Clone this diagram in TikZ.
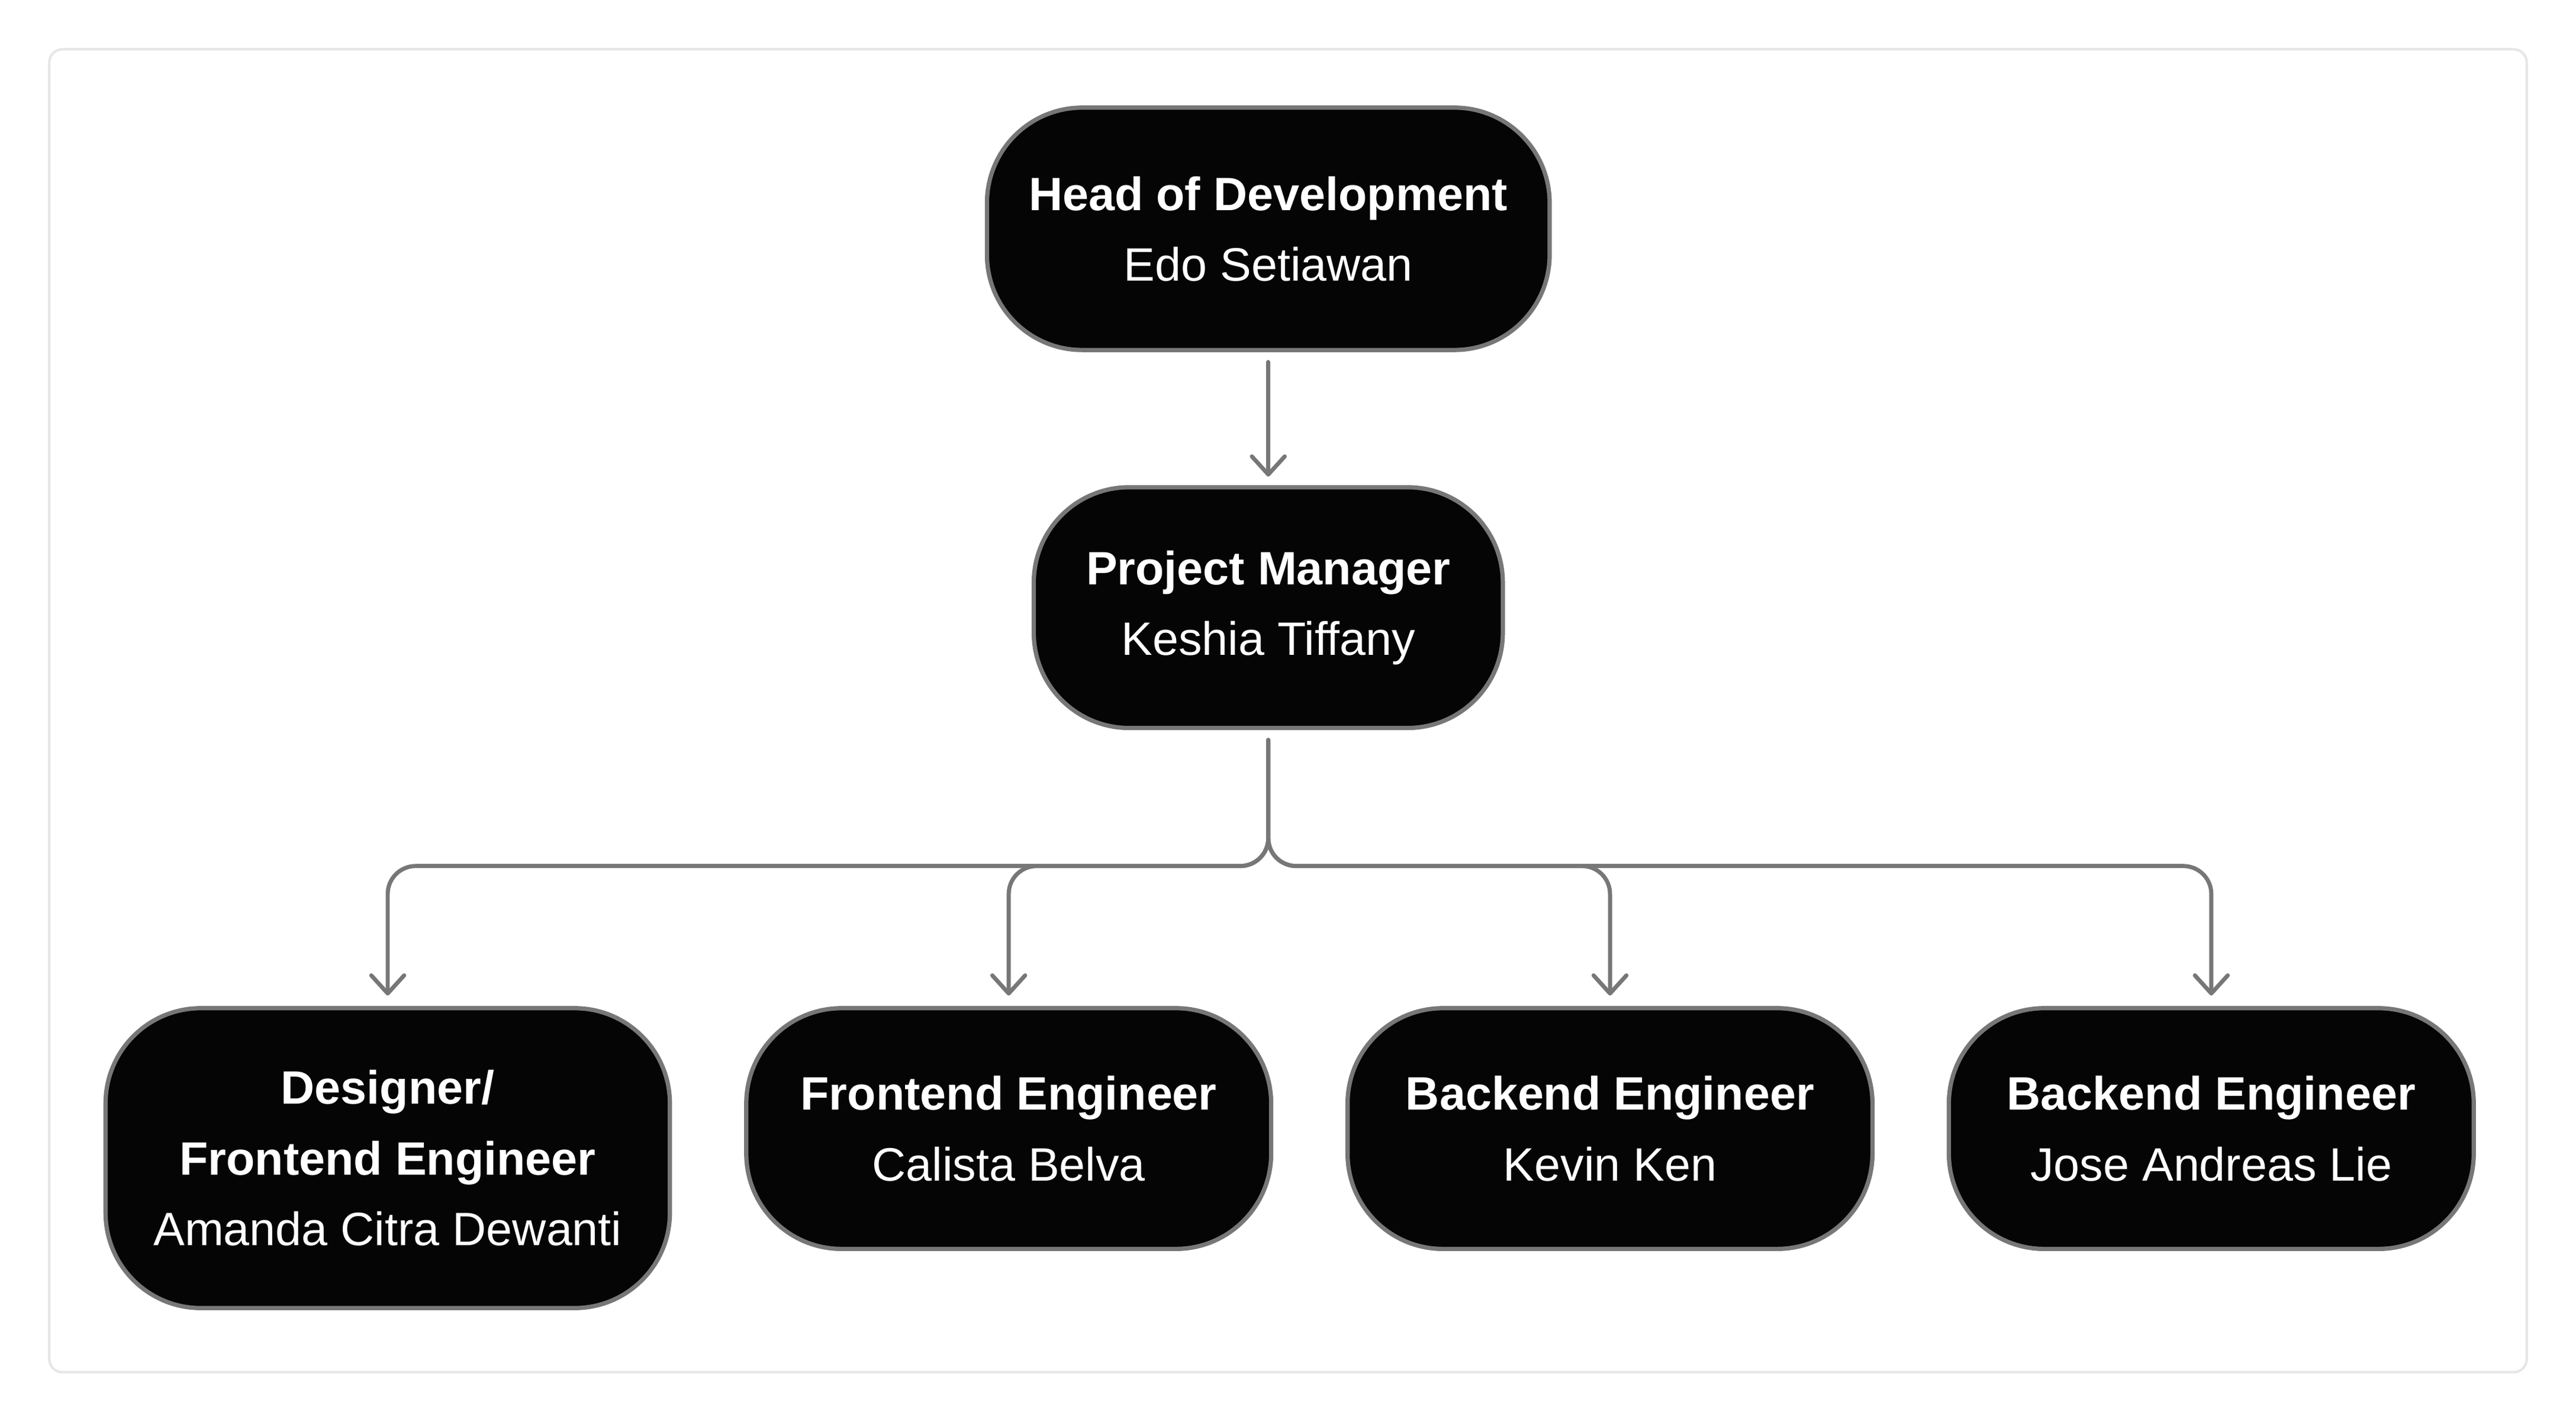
\documentclass[tikz,border=0pt]{standalone}
\usepackage{fontspec}
\setmainfont{Liberation Sans}
\usepackage{tikz}
\usetikzlibrary{arrows.meta}
\definecolor{boxfill}{HTML}{050505}
\definecolor{boxline}{HTML}{777777}
\definecolor{framegray}{HTML}{E6E6E6}
\tikzset{
  role/.style={draw=boxline, line width=1.3pt, fill=boxfill, text=white,
    rounded corners=29pt, align=center, inner sep=0pt, anchor=north,
    font=\fontsize{14.25}{21.5}\selectfont},
  link/.style={draw=boxline, line width=1.25pt, rounded corners=8.5pt, line cap=round,
    -{Straight Barb[length=5.5pt,width=10pt,round]}, shorten <=3pt, shorten >=3.2pt}
}

\begin{document}
\begin{tikzpicture}[x=0.5pt,y=-0.5pt]
\useasboundingbox (0,0) rectangle (1568,864.7);
\draw[framegray, line width=0.75pt, rounded corners=4pt] (30,30) rectangle (1538,835);
% boxes
\node[role, minimum width=171.25pt, minimum height=73.75pt] (head) at (772,64.2) {\textbf{Head of Development}\\Edo Setiawan};
\node[role, minimum width=142.75pt, minimum height=73.25pt] (pm) at (772,295.2) {\textbf{Project Manager}\\Keshia Tiffany\vphantom{p}};
\node[role, minimum width=171.75pt, minimum height=91.25pt] (designer) at (236,612.2) {\textbf{Designer/}\\\textbf{Frontend Engineer}\\Amanda Citra Dewanti};
\node[role, minimum width=159.75pt, minimum height=73.25pt] (frontend) at (614,612.2) {\textbf{Frontend Engineer}\\Calista Belva};
\node[role, minimum width=159.75pt, minimum height=73.25pt] (backendA) at (980,612.2) {\textbf{Backend Engineer}\\Kevin Ken};
\node[role, minimum width=159.75pt, minimum height=73.25pt] (backendB) at (1346,612.2) {\textbf{Backend Engineer}\\Jose Andreas Lie};
\coordinate (split) at (772,527);
% arrows
\draw[link, shorten >=2.6pt] (head) -- (pm);
\draw[link] (pm.south) -- (split) -| (designer.north);
\draw[link] (pm.south) -- (split) -| (frontend.north);
\draw[link] (pm.south) -- (split) -| (backendA.north);
\draw[link] (pm.south) -- (split) -| (backendB.north);
\end{tikzpicture}
\end{document}
